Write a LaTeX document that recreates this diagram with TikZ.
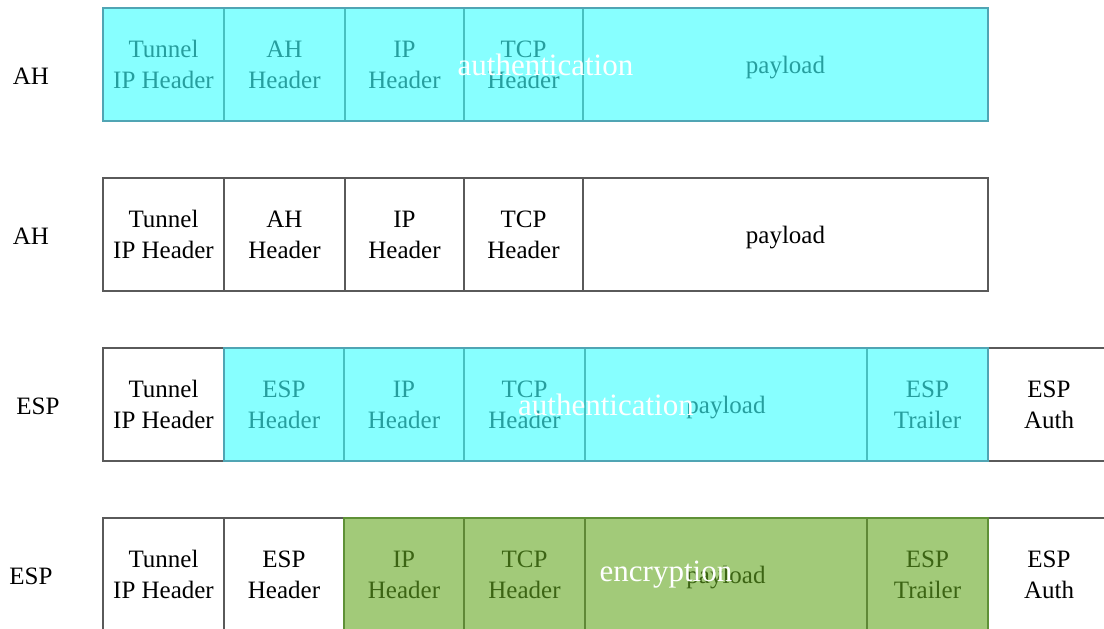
\documentclass[tikz,border=0pt]{standalone}
\usepackage{fontspec}
\setmainfont{Liberation Serif}
\usetikzlibrary{positioning, fit}
\definecolor{boxline}{RGB}{90,90,90}
\definecolor{authfill}{RGB}{62,255,255}
\definecolor{authline}{RGB}{80,165,180}
\definecolor{encfill}{RGB}{100,167,33}
\definecolor{encline}{RGB}{95,145,55}

\begin{document}
\begin{tikzpicture}[
		x=0.5pt, y=-0.5pt,
		node distance=0pt,
		fld/.style={draw=boxline, line width=0.7pt, fill=white, align=center, outer sep=0pt, inner sep=0pt, minimum height=56.5pt, font=\fontsize{12.5}{15.5}\selectfont},
		lbl/.style={font=\fontsize{12.5}{15.5}\selectfont},
		auth/.style={draw=authline, line width=0.7pt, fill=authfill, fill opacity=0.62, inner sep=0pt},
		enc/.style={draw=encline, line width=0.7pt, fill=encfill, fill opacity=0.6, inner sep=0pt},
		ovtxt/.style={text=white, inner sep=0pt, font=\fontsize{15.5}{18}\selectfont}
		]
		\useasboundingbox (0,0) rectangle (1104,628);
		
		\node[lbl] (r1) at (31,76) {AH};
		\node[fld, minimum width=60.5pt, anchor=north west] (tun1) at (103,8) {Tunnel\\IP Header};
		\node[fld, minimum width=60.5pt, right=of tun1] (ah1) {AH\\Header};
		\node[fld, minimum width=59.5pt, right=of ah1] (ip1) {IP\\Header};
		\node[fld, minimum width=59.5pt, right=of ip1] (tcp1) {TCP\\Header};
		\node[fld, minimum width=202.5pt, right=of tcp1, text depth=0pt] (pay1) {payload};
		\node[auth, fit=(tun1)(pay1)] (auth1) {};
		\node[ovtxt] (autht1) at (auth1.center) {authentication};
		
		\node[lbl] (r2) at (31,236) {AH};
		\node[fld, minimum width=60.5pt, anchor=north west] (tun2) at (103,178) {Tunnel\\IP Header};
		\node[fld, minimum width=60.5pt, right=of tun2] (ah2) {AH\\Header};
		\node[fld, minimum width=59.5pt, right=of ah2] (ip2) {IP\\Header};
		\node[fld, minimum width=59.5pt, right=of ip2] (tcp2) {TCP\\Header};
		\node[fld, minimum width=202.5pt, right=of tcp2, text depth=0pt] (pay2) {payload};
		
		\node[lbl] (r3) at (38,406) {ESP};
		\node[fld, minimum width=60.5pt, anchor=north west] (tun3) at (103,348) {Tunnel\\IP Header};
		\node[fld, minimum width=60pt, right=of tun3] (esp3) {ESP\\Header};
		\node[fld, minimum width=60pt, right=of esp3] (ip3) {IP\\Header};
		\node[fld, minimum width=60.5pt, right=of ip3] (tcp3) {TCP\\Header};
		\node[fld, minimum width=141pt, right=of tcp3, text depth=0pt] (pay3) {payload};
		\node[fld, minimum width=60.5pt, right=of pay3] (trl3) {ESP\\Trailer};
		\node[fld, minimum width=61pt, right=of trl3] (eauth3) {ESP\\Auth};
		\node[auth, fit=(esp3)(trl3)] (auth3) {};
		\node[ovtxt] (autht3) at (auth3.center) {authentication};
		
		\node[lbl] (r4) at (31,576) {ESP};
		\node[fld, minimum width=60.5pt, anchor=north west] (tun4) at (103,518) {Tunnel\\IP Header};
		\node[fld, minimum width=60pt, right=of tun4] (esp4) {ESP\\Header};
		\node[fld, minimum width=60pt, right=of esp4] (ip4) {IP\\Header};
		\node[fld, minimum width=60.5pt, right=of ip4] (tcp4) {TCP\\Header};
		\node[fld, minimum width=141pt, right=of tcp4, text depth=0pt] (pay4) {payload};
		\node[fld, minimum width=60.5pt, right=of pay4] (trl4) {ESP\\Trailer};
		\node[fld, minimum width=61pt, right=of trl4] (eauth4) {ESP\\Auth};
		\node[enc, fit=(ip4)(trl4)] (enc4) {};
		\node[ovtxt] (enct4) at (enc4.center) {encryption};
	\end{tikzpicture}
\end{document}
